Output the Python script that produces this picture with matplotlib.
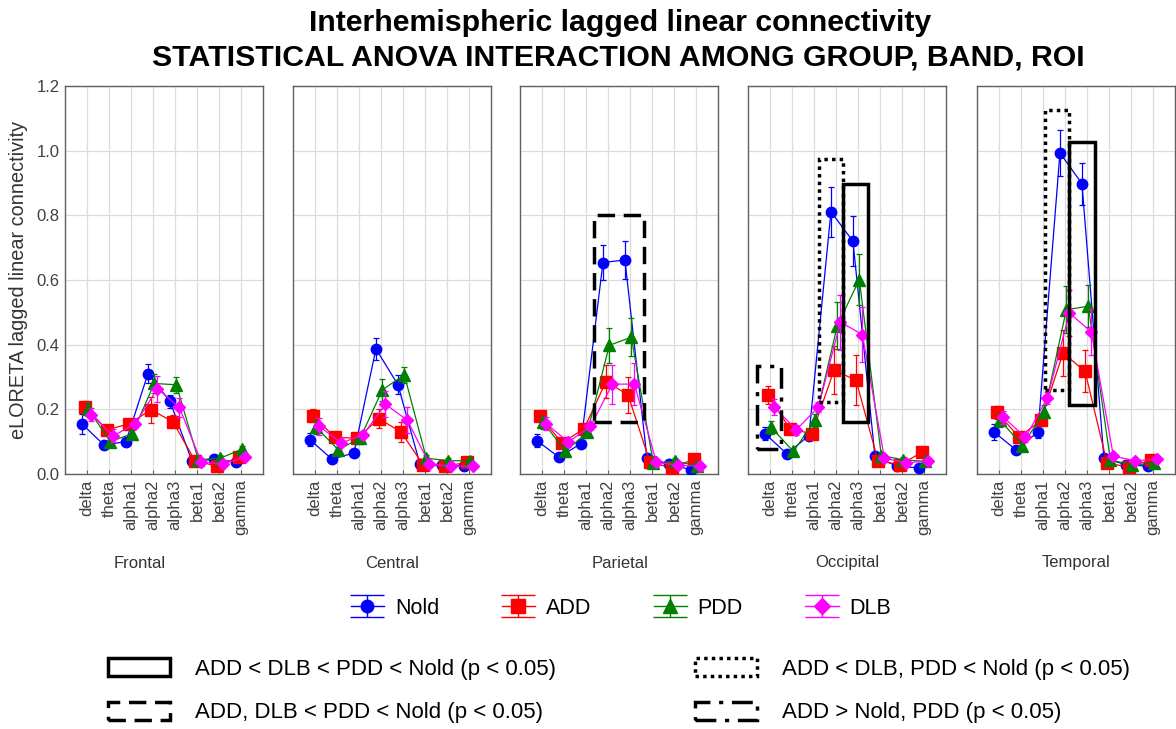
import numpy as np
import matplotlib
matplotlib.use("Agg")
import matplotlib.pyplot as plt
from matplotlib.patches import Rectangle, Patch

plt.rcParams["font.family"] = ["Liberation Sans", "DejaVu Sans"]

bands = ["delta", "theta", "alpha1", "alpha2", "alpha3", "beta1", "beta2", "gamma"]
rois = ["Frontal", "Central", "Parietal", "Occipital", "Temporal"]
groups = ["Nold", "ADD", "PDD", "DLB"]

# mean values, one row per ROI (bands in order)
nold = [
    [0.155, 0.090, 0.100, 0.310, 0.225, 0.040, 0.045, 0.038],
    [0.106, 0.046, 0.065, 0.387, 0.276, 0.031, 0.029, 0.024],
    [0.103, 0.052, 0.094, 0.654, 0.662, 0.049, 0.031, 0.013],
    [0.125, 0.062, 0.119, 0.811, 0.720, 0.055, 0.024, 0.019],
    [0.130, 0.075, 0.130, 0.993, 0.898, 0.049, 0.029, 0.024],
]
add = [
    [0.206, 0.137, 0.155, 0.199, 0.161, 0.041, 0.024, 0.052],
    [0.180, 0.113, 0.111, 0.171, 0.130, 0.029, 0.024, 0.036],
    [0.178, 0.096, 0.140, 0.286, 0.245, 0.036, 0.019, 0.046],
    [0.245, 0.139, 0.125, 0.321, 0.290, 0.041, 0.029, 0.067],
    [0.191, 0.114, 0.166, 0.374, 0.318, 0.034, 0.021, 0.044],
]
pdd = [
    [0.200, 0.100, 0.125, 0.280, 0.276, 0.044, 0.049, 0.077],
    [0.144, 0.075, 0.111, 0.260, 0.307, 0.049, 0.041, 0.041],
    [0.160, 0.070, 0.129, 0.398, 0.423, 0.034, 0.039, 0.026],
    [0.144, 0.070, 0.166, 0.459, 0.601, 0.057, 0.044, 0.039],
    [0.166, 0.088, 0.192, 0.508, 0.519, 0.044, 0.027, 0.034],
]
dlb = [
    [0.183, 0.118, 0.156, 0.264, 0.206, 0.036, 0.032, 0.052],
    [0.147, 0.096, 0.122, 0.216, 0.166, 0.031, 0.024, 0.024],
    [0.155, 0.099, 0.147, 0.278, 0.278, 0.036, 0.027, 0.024],
    [0.206, 0.137, 0.207, 0.470, 0.431, 0.049, 0.034, 0.041],
    [0.176, 0.113, 0.235, 0.498, 0.439, 0.055, 0.041, 0.046],
]

# error bar half-lengths
nold_err = [
    [0.030, 0.010, 0.010, 0.030, 0.020, 0.010, 0.010, 0.010],
    [0.020, 0.010, 0.010, 0.035, 0.030, 0.010, 0.010, 0.010],
    [0.020, 0.010, 0.010, 0.053, 0.060, 0.010, 0.010, 0.010],
    [0.020, 0.010, 0.015, 0.077, 0.078, 0.010, 0.010, 0.010],
    [0.025, 0.010, 0.020, 0.072, 0.065, 0.010, 0.010, 0.010],
]
add_err = [
    [0.020, 0.015, 0.015, 0.040, 0.020, 0.010, 0.010, 0.010],
    [0.020, 0.015, 0.010, 0.030, 0.030, 0.010, 0.010, 0.010],
    [0.015, 0.010, 0.010, 0.050, 0.055, 0.010, 0.010, 0.010],
    [0.027, 0.015, 0.010, 0.075, 0.077, 0.010, 0.010, 0.015],
    [0.020, 0.015, 0.015, 0.070, 0.065, 0.010, 0.010, 0.010],
]
pdd_err = [
    [0.020, 0.010, 0.010, 0.030, 0.025, 0.010, 0.010, 0.010],
    [0.020, 0.010, 0.010, 0.035, 0.025, 0.010, 0.010, 0.010],
    [0.020, 0.010, 0.010, 0.054, 0.058, 0.010, 0.010, 0.010],
    [0.020, 0.010, 0.020, 0.073, 0.078, 0.010, 0.010, 0.010],
    [0.020, 0.010, 0.020, 0.072, 0.065, 0.010, 0.010, 0.010],
]
dlb_err = [
    [0.020, 0.020, 0.015, 0.040, 0.030, 0.010, 0.010, 0.010],
    [0.025, 0.010, 0.010, 0.040, 0.040, 0.010, 0.010, 0.010],
    [0.020, 0.015, 0.010, 0.060, 0.065, 0.010, 0.010, 0.010],
    [0.025, 0.015, 0.015, 0.085, 0.085, 0.010, 0.010, 0.010],
    [0.020, 0.015, 0.020, 0.070, 0.072, 0.010, 0.010, 0.010],
]

# significance boxes per ROI: (kind, x0, x1, y0, y1) in band units / values
boxes = [
    [],
    [],
    [("dashed", 2.36, 4.62, 0.16, 0.80)],
    [("dashdot", -0.60, 0.48, 0.077, 0.333),
     ("dotted", 2.21, 3.34, 0.223, 0.974),
     ("solid", 3.34, 4.47, 0.161, 0.897)],
    [("dotted", 2.07, 3.17, 0.261, 1.125),
     ("solid", 3.20, 4.37, 0.214, 1.027)],
]

box_styles = {
    "solid": "-",
    "dashed": (0, (5, 2.5)),
    "dotted": (0, (1, 1.2)),
    "dashdot": (0, (6, 2.5, 1.2, 2.5)),
}
box_labels = {
    "solid": "ADD < DLB < PDD < Nold (p < 0.05)",
    "dashed": "ADD, DLB < PDD < Nold (p < 0.05)",
    "dotted": "ADD < DLB, PDD < Nold (p < 0.05)",
    "dashdot": "ADD > Nold, PDD (p < 0.05)",
}

series = [nold, add, pdd, dlb]
errors = [nold_err, add_err, pdd_err, dlb_err]
colors = ["#0000ff", "#ff0000", "#008000", "#ff00ff"]
markers = ["o", "s", "^", "D"]
msizes = [7.5, 8, 8, 6.5]
offsets = [-0.23, -0.09, 0.06, 0.20]

W, H = 1176, 729
fig = plt.figure(figsize=(W / 100, H / 100), dpi=100)

lefts = [65, 293, 520, 748, 977]
label_x = [140, 392, 620, 847, 1076]
ax_w, ax_top, ax_bot = 198, 86, 474
x = np.arange(len(bands))
tick_col = "#404040"

for i, roi in enumerate(rois):
    ax = fig.add_axes([lefts[i] / W, 1 - ax_bot / H, ax_w / W, (ax_bot - ax_top) / H])
    for g in range(len(groups)):
        ax.errorbar(x + offsets[g], series[g][i], yerr=errors[g][i],
                    color=colors[g], marker=markers[g], ms=msizes[g], lw=0.9,
                    elinewidth=0.9, capsize=2, capthick=0.9, zorder=3 + g)
    for kind, x0, x1, y0, y1 in boxes[i]:
        ax.add_patch(Rectangle((x0, y0), x1 - x0, y1 - y0, fill=False,
                               edgecolor="black", lw=2.5,
                               linestyle=box_styles[kind], zorder=10,
                               clip_on=False))
    ax.set_xlim(-1, 8)
    ax.set_ylim(0, 1.2)
    ax.set_xticks(x)
    ax.set_xticklabels(bands, rotation=90, fontsize=12, color=tick_col)
    ax.set_yticks(np.arange(0, 1.21, 0.2))
    ax.grid(True, color="#dcdcdc", lw=0.9, zorder=0)
    ax.set_axisbelow(True)
    ax.tick_params(axis="x", direction="in", length=3, color="#606060", pad=4)
    ax.tick_params(axis="y", direction="out", length=0, color="#606060", pad=4)
    for sp in ax.spines.values():
        sp.set_color("#606060")
        sp.set_linewidth(1.0)
    if i == 0:
        ax.set_yticklabels([f"{v:.1f}" for v in np.arange(0, 1.21, 0.2)],
                           fontsize=12, color=tick_col)
        ax.set_ylabel("eLORETA lagged linear connectivity", fontsize=14.3,
                      color="#333333", labelpad=6)
    else:
        ax.set_yticklabels([])
    fig.text(label_x[i] / W, 1 - 563 / H, roi, ha="center", va="center",
             fontsize=12, color="#333333")

fig.text(620 / W, 1 - 23 / H, "Interhemispheric lagged linear connectivity",
         ha="center", va="center", fontsize=21.8, fontweight="bold")
fig.text(618 / W, 1 - 57 / H, "STATISTICAL ANOVA INTERACTION AMONG GROUP, BAND, ROI",
         ha="center", va="center", fontsize=21.8, fontweight="bold")

# group legend with errorbar-style proxies
proxy_ax = fig.axes[0]
handles = []
for g in range(len(groups)):
    h = proxy_ax.errorbar([np.nan], [np.nan], yerr=[np.nan], color=colors[g],
                          marker=markers[g], ms=msizes[g] + 1.5, lw=1.0,
                          elinewidth=1.0, capsize=12, capthick=1.0)
    handles.append(h)
fig.legend(handles, groups, ncol=4, loc="center",
           bbox_to_anchor=(621 / W, 1 - 608 / H), frameon=False, fontsize=15.5,
           handlelength=1.55, handletextpad=0.5, columnspacing=2.9)

# significance box legends
def box_legend(kinds, left_px):
    hs = [Patch(facecolor="none", edgecolor="black", lw=2.5,
                linestyle=box_styles[k]) for k in kinds]
    fig.legend(hs, [box_labels[k] for k in kinds], loc="upper left",
               bbox_to_anchor=(left_px / W, 1 - 658 / H), frameon=False,
               fontsize=16, handlelength=2.8, handleheight=0.85,
               handletextpad=1.1, labelspacing=1.0, borderpad=0,
               borderaxespad=0)

box_legend(["solid", "dashed"], 108)
box_legend(["dotted", "dashdot"], 695)

fig.savefig("out.png", dpi=100)
